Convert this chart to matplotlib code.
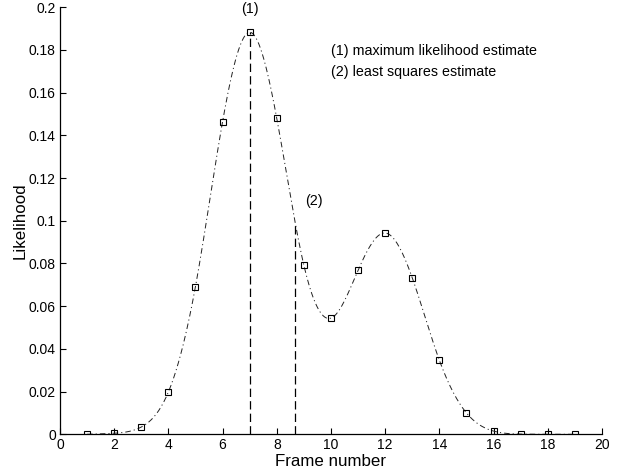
import numpy as np
import matplotlib
matplotlib.use("Agg")
import matplotlib.pyplot as plt
from matplotlib.ticker import FuncFormatter

# =========================
# Data
# =========================
frames = [1, 2, 3, 4, 5, 6, 7, 8, 9, 10, 11, 12, 13, 14, 15, 16, 17, 18, 19]
likelihood = [0.0000, 0.0005, 0.0034, 0.0198, 0.0692, 0.1464, 0.1883, 0.1480,
              0.0792, 0.0544, 0.0768, 0.0943, 0.0733, 0.0347, 0.0100, 0.0015,
              0.0001, 0.0000, 0.0000]

ml_estimate = 7.0
ml_height = 0.1883
ls_estimate = 8.67
ls_height = 0.0995

legend_lines = ["(1) maximum likelihood estimate", "(2) least squares estimate"]


# =========================
# Natural cubic spline for the smooth curve through the markers
# =========================
def natural_spline(x, y, xs):
    x = np.asarray(x, float)
    y = np.asarray(y, float)
    n = len(x)
    h = np.diff(x)
    A = np.zeros((n, n))
    b = np.zeros(n)
    A[0, 0] = 1
    A[-1, -1] = 1
    for i in range(1, n - 1):
        A[i, i - 1] = h[i - 1]
        A[i, i] = 2 * (h[i - 1] + h[i])
        A[i, i + 1] = h[i]
        b[i] = 3 * ((y[i + 1] - y[i]) / h[i] - (y[i] - y[i - 1]) / h[i - 1])
    c = np.linalg.solve(A, b)
    idx = np.clip(np.searchsorted(x, xs) - 1, 0, n - 2)
    dx = xs - x[idx]
    bb = (y[idx + 1] - y[idx]) / h[idx] - h[idx] * (2 * c[idx] + c[idx + 1]) / 3
    d = (c[idx + 1] - c[idx]) / (3 * h[idx])
    return y[idx] + bb * dx + c[idx] * dx ** 2 + d * dx ** 3


xs = np.linspace(frames[0], frames[-1], 600)
ys = natural_spline(frames, likelihood, xs)

# =========================
# Plot
# =========================
plt.rcParams['font.family'] = ['Liberation Sans', 'DejaVu Sans']
plt.rcParams['lines.scale_dashes'] = False

fig = plt.figure(figsize=(6.28, 4.75), dpi=100)
ax = fig.add_axes([0.0955, 0.0857, 0.863, 0.899])

ax.plot(xs, ys, color='#222222', lw=0.7, linestyle=(0, (4, 2.2, 0.8, 2.2)))
ax.plot(frames, likelihood, linestyle='none', marker='s', markersize=4.6,
        markerfacecolor='none', markeredgecolor='black', markeredgewidth=0.8)

ax.plot([ml_estimate, ml_estimate], [0, ml_height], color='black', lw=0.9,
        linestyle=(0, (6, 3)))
ax.plot([ls_estimate, ls_estimate], [0, ls_height], color='black', lw=0.9,
        linestyle=(0, (6, 3)))

ax.text(ml_estimate, 0.199, "(1)", ha='center', va='center', fontsize=10.3)
ax.text(9.05, 0.1094, "(2)", ha='left', va='center', fontsize=10.3)
ax.text(10.02, 0.1795, legend_lines[0], ha='left', va='center', fontsize=10.3)
ax.text(10.02, 0.1695, legend_lines[1], ha='left', va='center', fontsize=10.3)

ax.set_xlim(0, 20)
ax.set_ylim(0, 0.2)
ax.set_xticks(np.arange(0, 21, 2))
ax.set_yticks(np.arange(0, 0.201, 0.02))
ax.yaxis.set_major_formatter(FuncFormatter(lambda v, p: f"{v:g}"))
ax.tick_params(direction='in', length=4, width=0.8, labelsize=10, pad=3)

ax.spines['top'].set_visible(False)
ax.spines['right'].set_visible(False)
ax.spines['left'].set_linewidth(0.9)
ax.spines['bottom'].set_linewidth(0.9)

ax.set_xlabel("Frame number", fontsize=12.2, labelpad=1)
ax.set_ylabel("Likelihood", fontsize=12.2, labelpad=1)

fig.savefig("out.png", dpi=100)
